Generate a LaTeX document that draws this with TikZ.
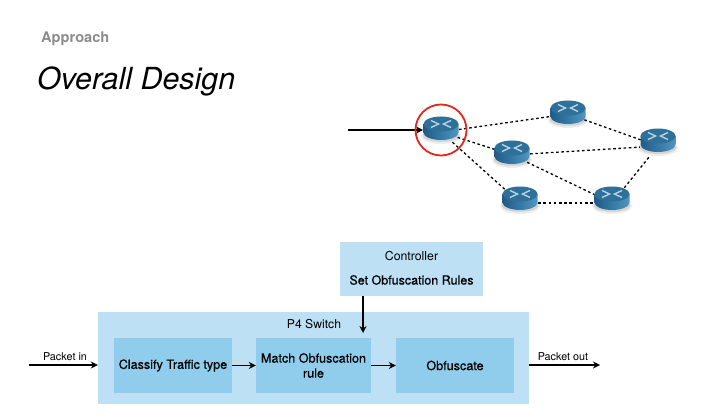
\documentclass[tikz,border=0pt]{standalone}
\usepackage{fontspec}
\setmainfont{TeX Gyre Heros}
\newfontfamily\medfont[FakeBold=0.5]{TeX Gyre Heros}
\usetikzlibrary{arrows.meta,shapes.geometric}
\definecolor{outerblue}{HTML}{BDE0F4}
\definecolor{innerblue}{HTML}{90CDEC}
\definecolor{rdark}{HTML}{1F5C88}
\definecolor{rlight}{HTML}{4F96C0}
\definecolor{rtop}{HTML}{2F7099}
\definecolor{rglyph}{HTML}{B5D3E4}
\tikzset{
  outerbox/.style={fill=outerblue,draw=none,minimum width=#1,inner sep=0pt},
  innerbox/.style={fill=innerblue,draw=none,minimum width=118pt,minimum height=55pt,inner sep=0pt,align=center,font=\medfont\fontsize{12.6}{15}\selectfont},
  plainlabel/.style={inner sep=0pt,font=\fontsize{10.8}{12}\selectfont},
  flow/.style={line width=1.7pt,-{Stealth[length=7pt,width=7pt]}},
  link/.style={line width=1.3pt,dash pattern=on 2.6pt off 2.6pt},
  routernode/.style={ellipse,minimum width=36pt,minimum height=26pt,inner sep=0pt,draw=none},
}
\newcommand{\routerbody}[2]{%
  \begin{scope}[shift={(#1,#2)}]
    \fill[black,opacity=.07] (0,8) ellipse [x radius=20,y radius=8];
    \fill[black,opacity=.10] (0,7.5) ellipse [x radius=18.5,y radius=6.5];
    \shade[left color=rdark,right color=rlight]
      (-17.5,-4) -- (-17.5,4.5) arc [start angle=180,end angle=0,x radius=17.5,y radius=7.5] -- (17.5,-4) -- cycle;
    \fill[rtop] (0,-4) ellipse [x radius=17.5,y radius=7.5];
    \begin{scope}[rglyph,line width=1.4pt]
      \draw (-10,-7.5) -- (-2.5,-4) -- (-10,-0.5);
      \draw (10,-7.5) -- (2.5,-4) -- (10,-0.5);
    \end{scope}
  \end{scope}}
\begin{document}
\begin{tikzpicture}[x=1pt,y=-1pt]
\useasboundingbox[fill=white] (0,0) rectangle (708,419);
\node[anchor=west,inner sep=0pt,text=black!45,font=\bfseries\fontsize{14.6}{16}\selectfont] (sec) at (41,39) {Approach};
\node[anchor=west,inner sep=0pt,font=\itshape\fontsize{30.4}{36}\selectfont] (title) at (37,81) {Overall Design};

\node[routernode] (r1) at (441,132) {};
\node[routernode] (r2) at (568,114) {};
\node[routernode] (r3) at (512,155) {};
\node[routernode] (r4) at (658,146) {};
\node[routernode] (r5) at (520,203) {};
\node[routernode] (r6) at (612,203) {};
\coordinate (src) at (348,130);
\draw[link] (r1) -- (r2);
\draw[link] (r1) -- (r3);
\draw[link] (r1) -- (r5);
\draw[link] (r2) -- (r4);
\draw[link] (r3) -- (r4);
\draw[link] (r3) -- (r6);
\draw[link] (r4) -- (r6);
\draw[link,line width=1.8pt] (r5) -- (r6);
\routerbody{441}{128}
\routerbody{568}{112}
\routerbody{512}{152}
\routerbody{658}{140}
\routerbody{520}{198}
\routerbody{612}{198}
\draw[flow] (src) -- (423,130);
\node[circle,draw={rgb,255:red,224;green,40;blue,31},line width=1.8pt,minimum size=51pt,inner sep=0pt] (focus) at (441,130) {};

\node[outerbox=143pt,minimum height=54pt] (ctrl) at (411.5,269) {};
\node[inner sep=0pt,font=\fontsize{12.3}{14}\selectfont] (ctrlt) at (411.5,256) {Controller};
\node[inner sep=0pt,font=\medfont\fontsize{12.5}{14}\selectfont] (ctrls) at (411.5,280) {Set Obfuscation Rules};

\node[outerbox=431pt,minimum height=92pt] (p4) at (313.5,358) {};
\node[inner sep=0pt,font=\fontsize{12.2}{14}\selectfont] (p4t) at (314,324) {P4 Switch};
\node[innerbox] (classify) at (173,365.5) {Classify Traffic type};
\node[innerbox,minimum width=115pt] (match) at (313.5,365.5) {Match Obfuscation\\rule};
\node[innerbox] (obf) at (455,365.5) {Obfuscate};

\coordinate (pin) at (29,365);
\coordinate (pout) at (600,365);
\coordinate (ctrlfoot) at (363,296);
\coordinate (matchtop) at (363,333);
\draw[flow] (pin) -- (p4.west |- pin);
\draw[flow] (p4.east |- pout) -- (pout);
\draw[flow] (ctrlfoot) -- (matchtop);
\draw[flow] (classify) -- (match);
\draw[flow] (match) -- (obf);
\node[plainlabel] (pinl) at (65,357) {Packet in};
\node[plainlabel] (poutl) at (563,357) {Packet out};
\end{tikzpicture}
\end{document}
